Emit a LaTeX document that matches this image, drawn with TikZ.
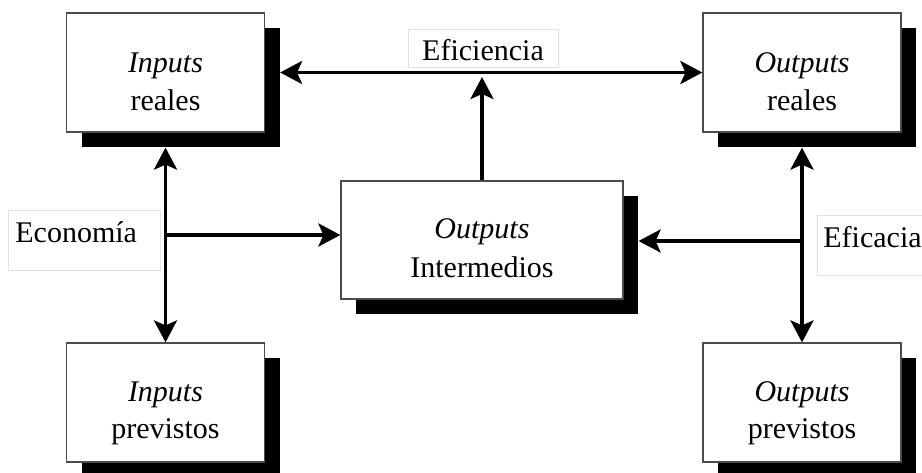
\documentclass[tikz,border=0pt]{standalone}
\usepackage{fontspec}
\setmainfont{Liberation Serif}
\usetikzlibrary{arrows.meta,shadows}

\tikzset{
  block/.style={draw=black!70, line width=1.2pt, fill=white, inner sep=0pt,
    minimum width=198pt, minimum height=119pt,
    drop shadow={shadow xshift=15pt, shadow yshift=-15pt, fill=black, opacity=1}},
  wideblock/.style={block, minimum width=282pt, minimum height=118pt},
  txt/.style={anchor=base, inner sep=0pt},
  tag/.style={draw=black!12, line width=0.8pt, fill=white, inner ysep=0pt},
  tip/.tip={Stealth[length=22pt, width=23pt, inset=5pt]},
  arr/.style={line width=3.4pt, black, arrows={-tip}},
  arrboth/.style={arr, arrows={tip-tip}}
}

\begin{document}
\begin{tikzpicture}[x=1pt, y=-1pt, font=\fontsize{30pt}{38pt}\selectfont]
\useasboundingbox (0,0) rectangle (922,472);
\clip (0,0) rectangle (922,472);

% boxes
\node[block] (ir) at (165.5,72.5) {};
\node[block] (or) at (802,72.5) {};
\node[block] (ip) at (165.5,402.5) {};
\node[block] (op) at (802,402.5) {};
\node[wideblock] (oi) at (482,240) {};

% box texts
\node[txt] (ir1) at ([yshift=0.5pt]ir.center) {\textit{Inputs}};
\node[txt] (ir2) at ([yshift=-37.5pt]ir.center) {reales};
\node[txt] (or1) at ([yshift=0.5pt]or.center) {\textit{Outputs}};
\node[txt] (or2) at ([yshift=-37.5pt]or.center) {reales};
\node[txt] (ip1) at ([yshift=1.5pt]ip.center) {\textit{Inputs}};
\node[txt] (ip2) at ([yshift=-35.5pt]ip.center) {previstos};
\node[txt] (op1) at ([yshift=1.5pt]op.center) {\textit{Outputs}};
\node[txt] (op2) at ([yshift=-35.5pt]op.center) {previstos};
\node[txt] (oi1) at ([yshift=2pt]oi.center) {\textit{Outputs}};
\node[txt] (oi2) at ([yshift=-37pt]oi.center) {Intermedios};

% shadow edges used as arrow ends
\coordinate (irsr) at ([xshift=15pt]ir.east);
\coordinate (irsb) at ([yshift=-15pt]ir.south);
\coordinate (orsb) at ([yshift=-15pt]or.south);
\coordinate (oisr) at ([xshift=15pt]oi.east);

% labels
\node[tag, minimum width=150pt, minimum height=38pt, text height=24pt, text depth=0pt]
  (efi) at (483,48) {Eficiencia};
\node[tag, anchor=west, text width=138pt, align=left, inner xsep=7pt,
  minimum height=60pt, text height=10pt, text depth=6pt]
  (eco) at (8,240) {Economía};
\node[tag, anchor=west, text width=138pt, align=left, inner xsep=6pt,
  minimum height=60pt, text height=10pt, text depth=6pt]
  (efc) at (817,245) {Eficacia};

% connectors
\draw[arrboth] (irsr) -- (or.west);
\draw[arr, shorten >=4.5pt] (oi.north) -- (oi.north |- ir.east);
\draw[arrboth] (irsb) -- (ip.north);
\draw[arrboth] (orsb) -- (op.north);
\coordinate (ecj) at (167,235);
\draw[arr] (ecj) -- (ecj -| oi.west);
\coordinate (efj) at (803.5,241);
\draw[arr] (efj) -- (efj -| oisr);
\end{tikzpicture}
\end{document}
